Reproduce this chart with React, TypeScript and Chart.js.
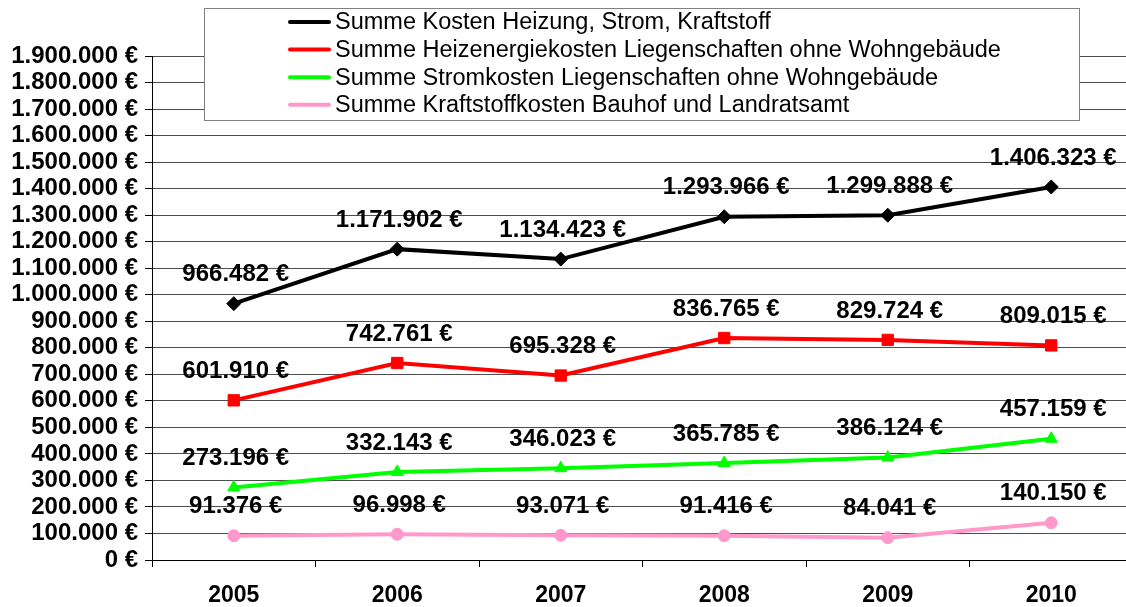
import React, { useEffect, useRef } from "react";
import { Chart, registerables } from "chart.js";

Chart.register(...registerables);

const years = ["2005", "2006", "2007", "2008", "2009", "2010"];
const seriesNames = [
  "Summe Kosten Heizung, Strom, Kraftstoff",
  "Summe Heizenergiekosten Liegenschaften ohne Wohngebäude",
  "Summe Stromkosten Liegenschaften ohne Wohngebäude",
  "Summe Kraftstoffkosten Bauhof und Landratsamt",
];
const totalCosts = [966482, 1171902, 1134423, 1293966, 1299888, 1406323];
const heatingCosts = [601910, 742761, 695328, 836765, 829724, 809015];
const electricityCosts = [273196, 332143, 346023, 365785, 386124, 457159];
const fuelCosts = [91376, 96998, 93071, 91416, 84041, 140150];
const seriesColors = ["#000000", "#ff0000", "#00ff00", "#ff99cc"];
const seriesMarkers = ["rectRot", "rect", "triangle", "circle"];
const markerSizes = [7, 8, 7, 6];
const yMax = 1900000;
const yStep = 100000;

const FONT = "'Liberation Sans', Arial, sans-serif";
const fmt = (v: number) => v.toLocaleString("de-DE") + " €";

const valueLabels = {
  id: "valueLabels",
  afterDatasetsDraw(chart: any) {
    const ctx = chart.ctx;
    ctx.save();
    ctx.font = `bold 24px ${FONT}`;
    ctx.fillStyle = "#000";
    ctx.textAlign = "center";
    ctx.textBaseline = "middle";
    chart.data.datasets.forEach((ds: any, di: number) => {
      const meta = chart.getDatasetMeta(di);
      meta.data.forEach((pt: any, i: number) => {
        ctx.fillText(fmt(ds.data[i]), pt.x + 2, pt.y - 29);
      });
    });
    ctx.restore();
  },
};

const boxLegend = {
  id: "boxLegend",
  afterDraw(chart: any) {
    const ctx = chart.ctx;
    ctx.save();
    const bx = 204.5, by = 8.5, bw = 875, bh = 112;
    ctx.fillStyle = "#fff";
    ctx.fillRect(bx, by, bw, bh);
    ctx.strokeStyle = "#808080";
    ctx.lineWidth = 1;
    ctx.strokeRect(bx, by, bw, bh);
    ctx.font = `23.5px ${FONT}`;
    ctx.textBaseline = "middle";
    ctx.textAlign = "left";
    chart.data.datasets.forEach((ds: any, i: number) => {
      const y = 22 + i * 27.6;
      ctx.strokeStyle = ds.borderColor;
      ctx.lineWidth = 4;
      ctx.lineCap = "round";
      ctx.beginPath();
      ctx.moveTo(290, y);
      ctx.lineTo(329, y);
      ctx.stroke();
      ctx.fillStyle = ds.borderColor;
      ctx.strokeStyle = ds.borderColor;
      ctx.lineWidth = 1;
      (Chart as any).helpers?.drawPoint?.(
        ctx,
        { pointStyle: ds.pointStyle, radius: ds.pointRadius - 1, borderWidth: 1 },
        310,
        y
      );
      ctx.fillStyle = "#000";
      ctx.fillText(ds.label, 335, y + 1);
    });
    ctx.restore();
  },
};

export default function App() {
  const ref = useRef<HTMLCanvasElement>(null);
  useEffect(() => {
    if (!ref.current) return;
    const allSeries = [totalCosts, heatingCosts, electricityCosts, fuelCosts];
    const chart = new Chart(ref.current, {
      type: "line",
      data: {
        labels: years,
        datasets: allSeries.map((d, i) => ({
          label: seriesNames[i],
          data: d,
          borderColor: seriesColors[i],
          backgroundColor: seriesColors[i],
          borderWidth: 4,
          pointStyle: seriesMarkers[i] as any,
          pointRadius: markerSizes[i],
          pointHoverRadius: markerSizes[i],
          pointBorderWidth: 1,
          tension: 0,
          fill: false,
        })),
      },
      options: {
        responsive: false,
        animation: false,
        layout: { padding: { top: 56, right: 0, left: 0, bottom: 0 } },
        plugins: {
          legend: { display: false },
          tooltip: { enabled: false },
        },
        scales: {
          x: {
            offset: true,
            grid: {
              offset: true,
              drawOnChartArea: false,
              drawTicks: true,
              tickLength: 7,
              color: "#000",
              lineWidth: 1,
            },
            border: { display: true, color: "#000", width: 1 },
            ticks: {
              color: "#000",
              font: { family: FONT, size: 23, weight: "bold" },
              padding: 15,
              maxRotation: 0,
              autoSkip: false,
            },
            afterFit(scale: any) {
              scale.height = 47;
            },
          },
          y: {
            min: 0,
            max: yMax,
            grid: {
              color: "#4d4d4d",
              lineWidth: 1,
              drawTicks: true,
              tickLength: 7,
              tickColor: "#000",
            },
            border: { display: true, color: "#000", width: 1 },
            ticks: {
              stepSize: yStep,
              autoSkip: false,
              color: "#000",
              font: { family: FONT, size: 24, weight: "bold" },
              padding: 7,
              callback: (v: any) => fmt(Number(v)),
            },
            afterFit(scale: any) {
              scale.width = 152;
            },
          },
        },
      },
      plugins: [valueLabels, boxLegend],
    });
    return () => chart.destroy();
  }, []);
  return (
    <div style={{ position: "absolute", left: 0, top: 0, width: 1126, height: 607, overflow: "hidden", background: "#fff" }}>
      <canvas ref={ref} width={1142} height={607} style={{ display: "block" }} />
    </div>
  );
}
